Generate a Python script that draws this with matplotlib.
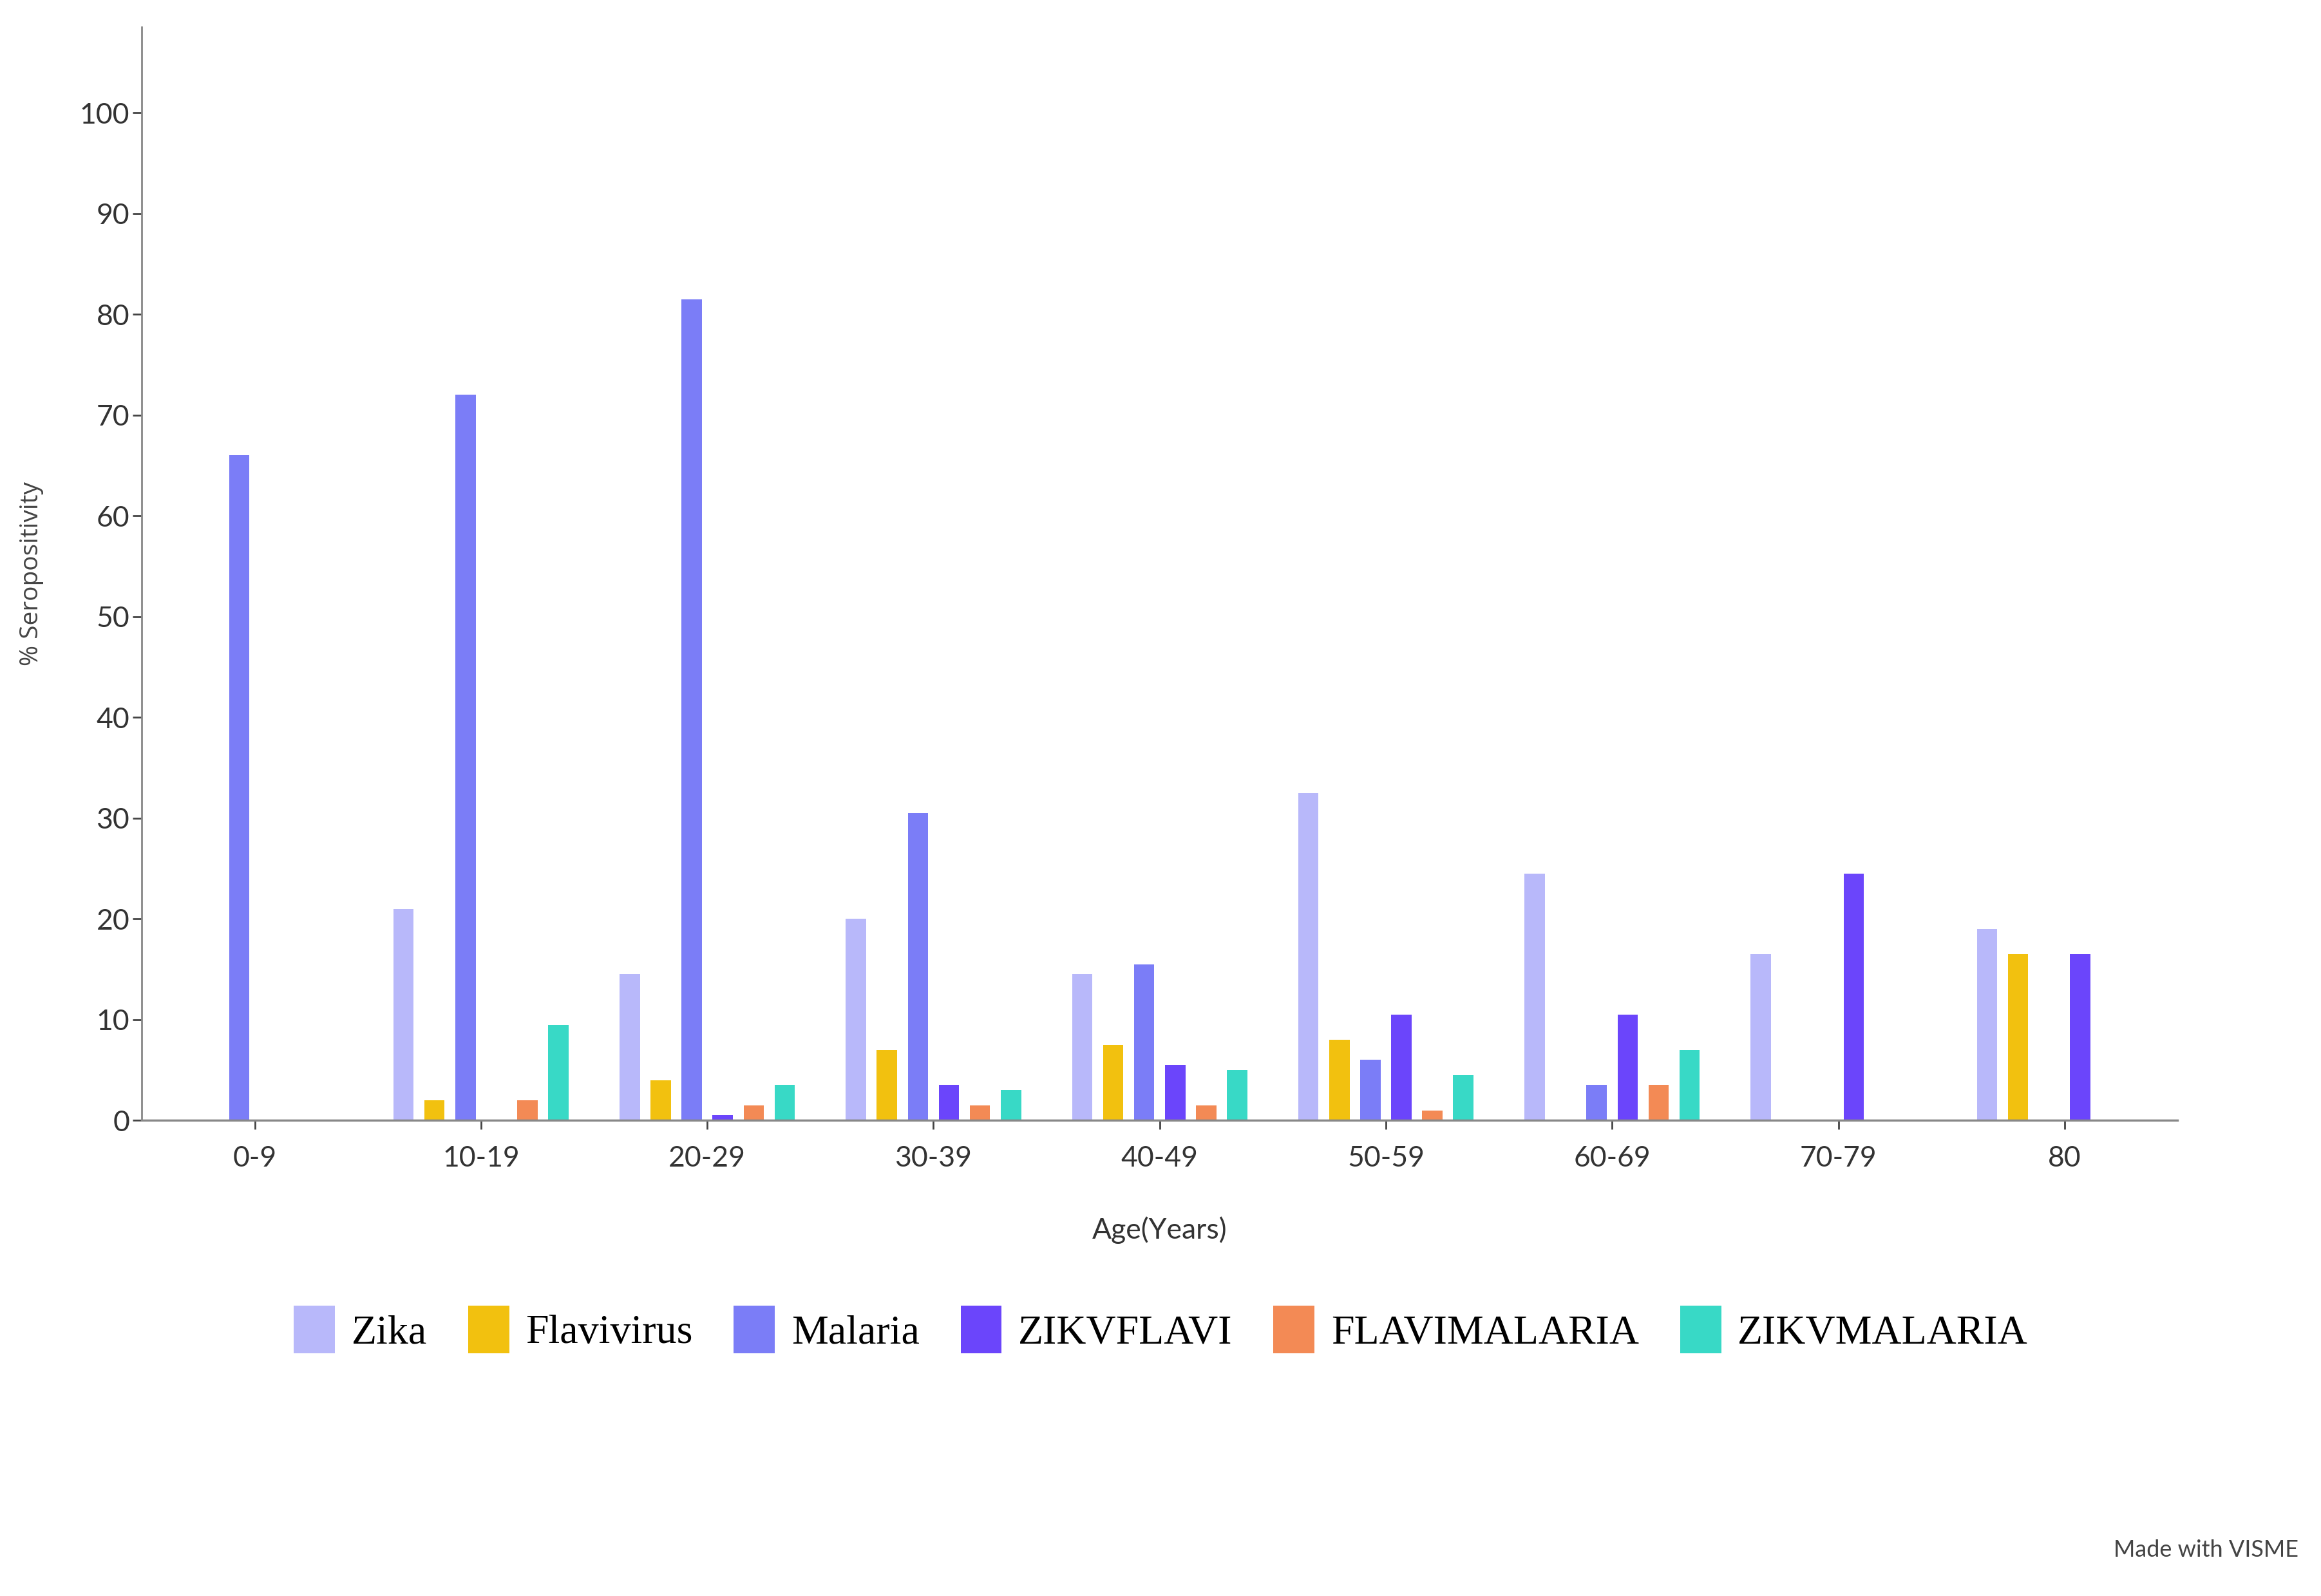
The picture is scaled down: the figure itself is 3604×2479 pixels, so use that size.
import numpy as np
import matplotlib.pyplot as plt

ages = ["0-9", "10-19", "20-29", "30-39", "40-49", "50-59", "60-69", "70-79", "80"]
zika = [0, 21, 14.5, 20, 14.5, 32.5, 24.5, 16.5, 19]
flavivirus = [0, 2, 4, 7, 7.5, 8, 0, 0, 16.5]
malaria = [66, 72, 81.5, 30.5, 15.5, 6, 3.5, 0, 0]
zikvflavi = [0, 0, 0.5, 3.5, 5.5, 10.5, 10.5, 24.5, 16.5]
flavimalaria = [0, 2, 1.5, 1.5, 1.5, 1, 3.5, 0, 0]
zikvmalaria = [0, 9.5, 3.5, 3, 5, 4.5, 7, 0, 0]

series = [
    ("Zika", zika, "#b8b8fa"),
    ("Flavivirus", flavivirus, "#f2c10f"),
    ("Malaria", malaria, "#7b7df7"),
    ("ZIKVFLAVI", zikvflavi, "#6b45fb"),
    ("FLAVIMALARIA", flavimalaria, "#f38a55"),
    ("ZIKVMALARIA", zikvmalaria, "#38d9c6"),
]

fig = plt.figure(figsize=(36.05, 24.79), dpi=100)
ax = fig.add_axes([0.061, 0.298, 0.877, 0.685])

x = np.arange(len(ages))
step = 0.137
width = 0.09
for i, (name, vals, col) in enumerate(series):
    ax.bar(x + (i - 2.5) * step, vals, width=width, color=col, label=name)

ax.set_xlim(-0.5, 8.5)
ax.set_ylim(0, 108.5)
ax.set_yticks(range(0, 101, 10))
ax.set_xticks(x)
ax.set_xticklabels(ages)
for s in ["top", "right"]:
    ax.spines[s].set_visible(False)
ax.spines["left"].set_color("#888888")
ax.spines["bottom"].set_color("#888888")
ax.spines["left"].set_linewidth(2)
ax.spines["bottom"].set_linewidth(2.5)
ax.tick_params(axis="both", labelsize=32, colors="#444444", length=10, width=2)
ax.tick_params(axis="x", pad=18)
for lab in ax.get_xticklabels() + ax.get_yticklabels():
    lab.set_family("Lato")
    lab.set_color("#333333")

ax.set_ylabel("% Seropositivity", fontsize=28, family="Open Sans", color="#444444", labelpad=40)
ax.set_xlabel("Age(Years)", fontsize=32, family="Lato", color="#333333", labelpad=50)

leg = fig.legend(loc="center", bbox_to_anchor=(0.5, 0.167), ncol=6, frameon=False,
                 prop={"family": "Liberation Serif", "size": 46},
                 handlelength=1.0, handleheight=1.4, columnspacing=1.0, handletextpad=0.4)

fig.text(0.99, 0.022, "Made with VISME", ha="right", va="bottom", fontsize=26,
         family="Lato", color="#444444")

fig.savefig("out.png", dpi=100)
